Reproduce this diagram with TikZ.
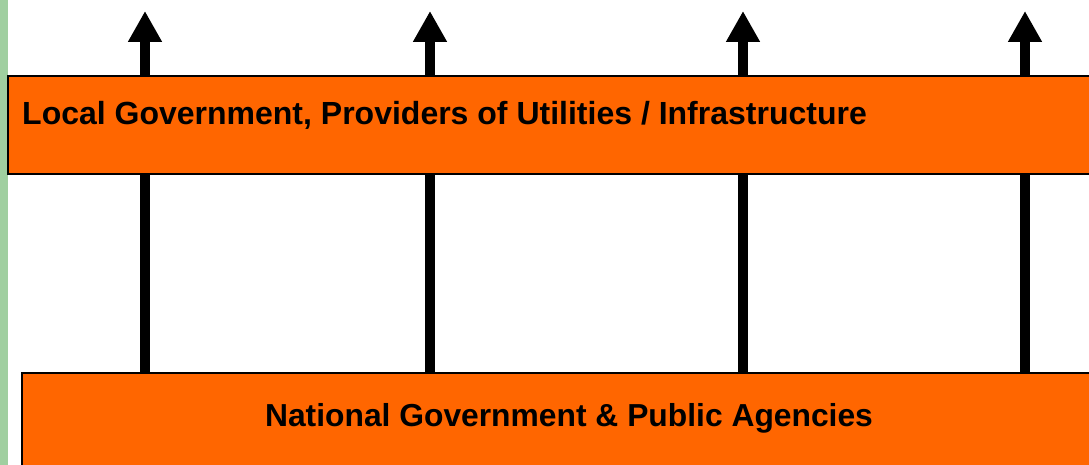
\documentclass[tikz,border=0pt]{standalone}
\usepackage{fontspec}
\setmainfont{Liberation Sans}
\usetikzlibrary{arrows.meta}
\definecolor{boxorange}{RGB}{255,102,0}
\definecolor{stripgreen}{RGB}{160,207,160}
\tikzset{
  box/.style={draw=black, line width=1.6pt, fill=boxorange, rectangle, inner sep=0pt, anchor=north west},
  lbl/.style={inner sep=0pt, font=\bfseries\fontsize{31.8}{38}\selectfont},
  bigarrow/.style={line width=10pt, -{Triangle[width=32pt,length=31pt]}}
}
\begin{document}
\begin{tikzpicture}[x=1pt,y=-1pt]
\useasboundingbox (0,0) rectangle (1089,465);
\clip (0,0) rectangle (1089,465);
\fill[stripgreen] (0,0) rectangle (8,465);
% arrow tips
\coordinate (t1) at (145,11);
\coordinate (t2) at (430,11);
\coordinate (t3) at (743,11);
\coordinate (t4) at (1025,11);
\coordinate (b1) at (145,372);
\coordinate (b2) at (430,372);
\coordinate (b3) at (743,372);
\coordinate (b4) at (1025,372);
\foreach \i in {1,2,3,4} { \draw[bigarrow] (b\i) -- (t\i); }
% boxes
\node[box, minimum width=1100pt, minimum height=98pt] (loc) at (7,75) {};
\node[lbl, font=\bfseries\fontsize{32}{38}\selectfont, anchor=base west] (loct) at (22,124.5) {Local Government, Providers of Utilities / Infrastructure};
\node[box, minimum width=1100pt, minimum height=110pt] (nat) at (21,372) {};
\node[lbl, anchor=base] (natt) at (569,426) {National Government \& Public Agencies};
\end{tikzpicture}
\end{document}
